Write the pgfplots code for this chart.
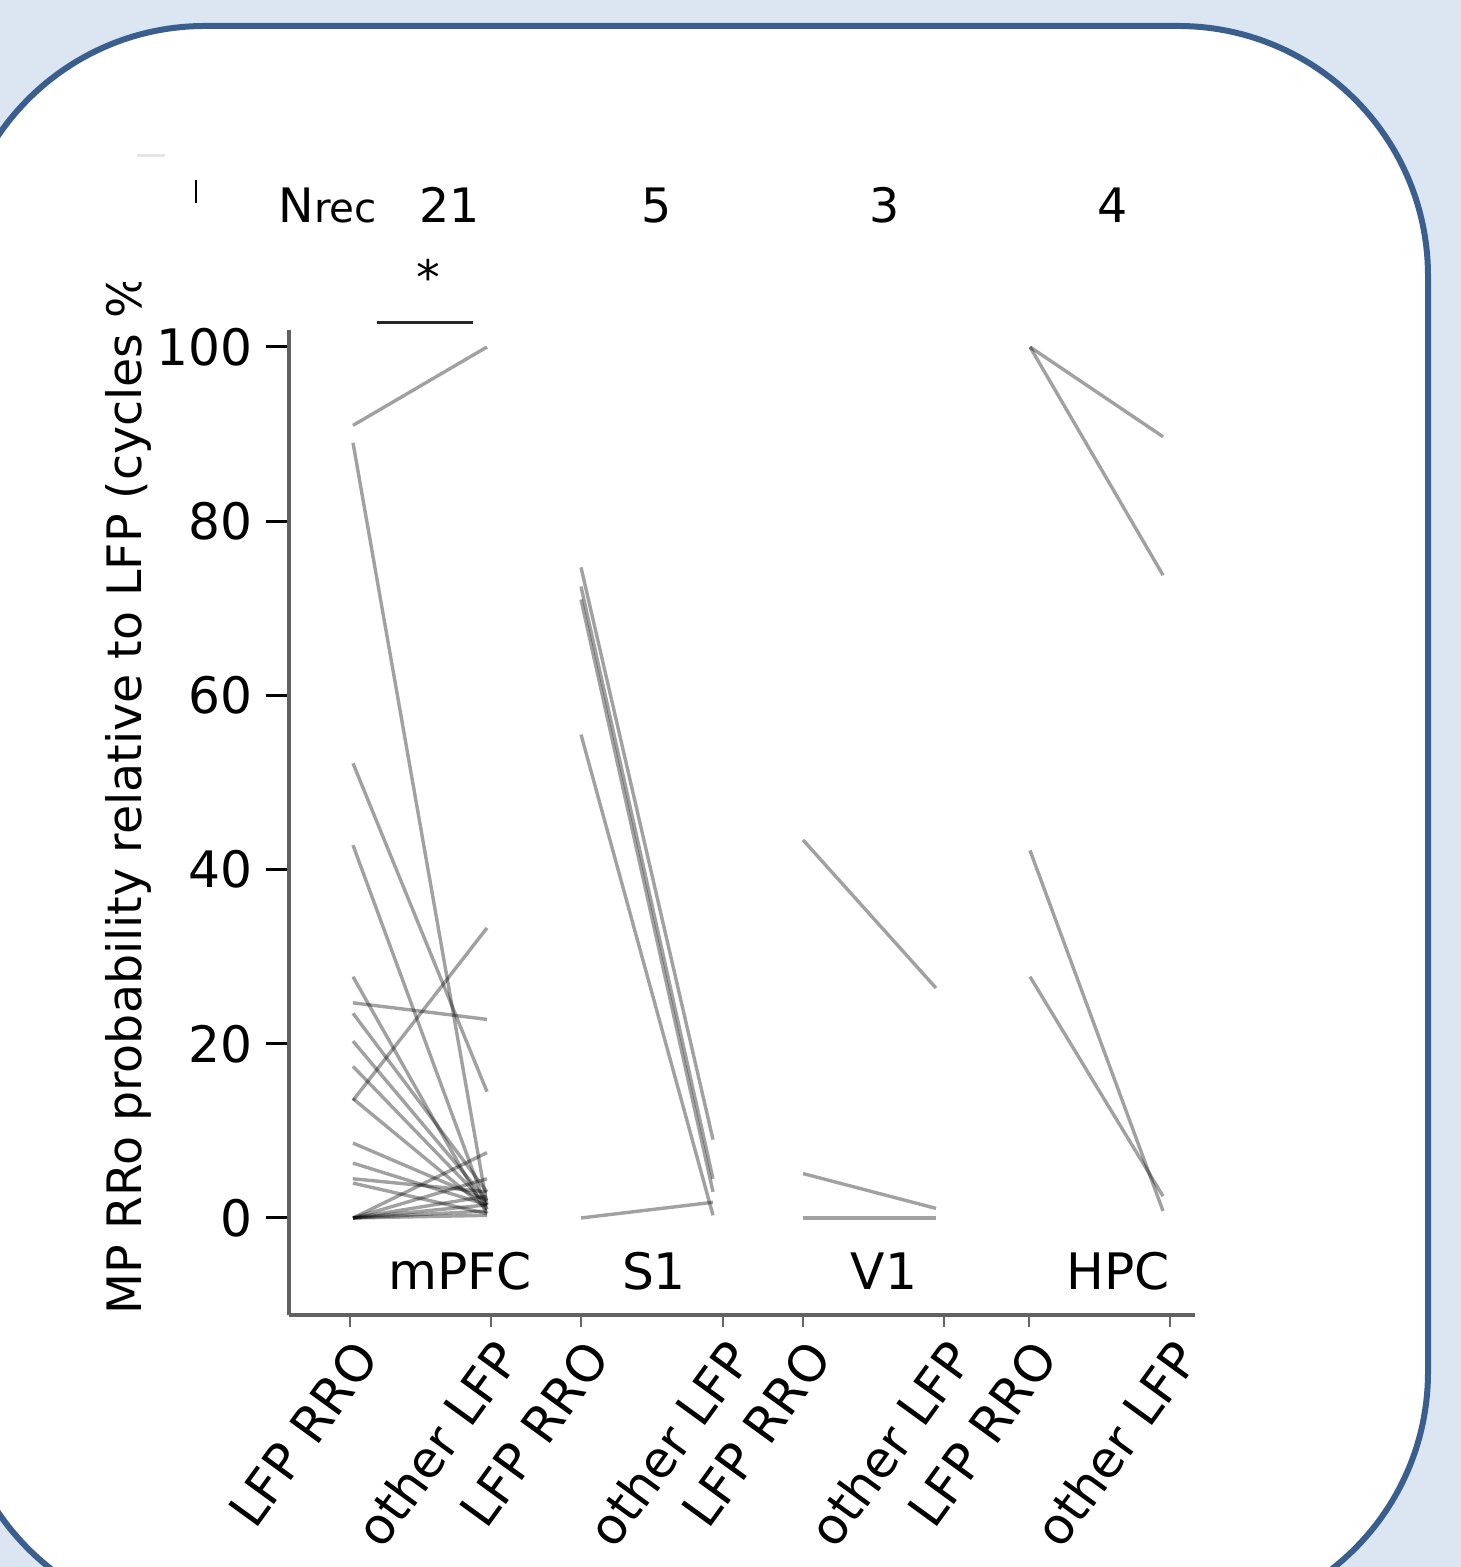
\documentclass[border=0pt]{standalone}
\usepackage{fontspec}
\setmainfont{DejaVu Sans}
\usepackage{pgfplots}
\pgfplotsset{compat=1.18}
\definecolor{bgblue}{HTML}{DCE6F2}
\definecolor{frameblue}{HTML}{3A5F8E}
\newcommand\fs{\fontsize{13.5pt}{16pt}\selectfont}
\newcommand\fsb{\fontsize{14.3pt}{17pt}\selectfont}
\begin{document}
\begin{tikzpicture}
\useasboundingbox (0cm,0cm) rectangle (14.61cm,15.67cm);
\clip (0cm,0cm) rectangle (14.61cm,15.67cm);
\fill[bgblue] (0cm,0cm) rectangle (14.61cm,15.67cm);
\draw[frameblue, line width=0.06cm, fill=white, rounded corners=2.5cm] (-0.45cm,-0.55cm) rectangle (14.28cm,15.41cm);
% small artifacts of the cropped figure
\draw[black!10, line width=0.03cm] (1.37cm,14.11cm) -- (1.65cm,14.11cm);
\draw[black, line width=0.012cm] (1.96cm,13.87cm) -- (1.96cm,13.64cm);
\begin{axis}[
  at={(2.89cm,2.52cm)}, anchor=south west,
  scale only axis, width=9.06cm, height=9.85cm,
  xmin=2.89, xmax=11.95, ymin=-11.14, ymax=101.95,
  axis x line*=bottom, axis y line*=left,
  axis line style={-, draw=black!62, line width=0.042cm},
  tick align=outside,
  xtick={3.50,4.91,5.81,7.23,8.03,9.44,10.29,11.70},
  xticklabels={LFP RRO,other LFP,LFP RRO,other LFP,LFP RRO,other LFP,LFP RRO,other LFP},
  ytick={0,20,40,60,80,100},
  xtick style={draw=black!60, line width=0.02cm, /pgfplots/major tick length=0.12cm},
  ytick style={draw=black, line width=0.03cm, /pgfplots/major tick length=0.23cm},
  /pgf/number format/assume math mode=true,
  yticklabel style={font=\fsb, xshift=-0.09cm},
  xticklabel style={font=\fsb, xshift=0.23cm, yshift=-0.08cm, rotate=54, anchor=east},
  clip=false,
  ln/.style={black, opacity=0.37, line width=0.034cm},
]
\newcommand\pl[4]{\addplot[ln] coordinates {(#1,#2) (#3,#4)};}
% mPFC
\pl{3.53}{91}{4.87}{100}
\pl{3.53}{89}{4.87}{1.5}
\pl{3.53}{52.2}{4.87}{14.5}
\pl{3.53}{42.8}{4.87}{1}
\pl{3.53}{27.7}{4.87}{0.5}
\pl{3.53}{24.7}{4.87}{22.8}
\pl{3.53}{23.5}{4.87}{3}
\pl{3.53}{20.3}{4.87}{2}
\pl{3.53}{17.4}{4.87}{1.5}
\pl{3.53}{13.5}{4.87}{33.3}
\pl{3.53}{13.7}{4.87}{1}
\pl{3.53}{8.6}{4.87}{2}
\pl{3.53}{6.3}{4.87}{1.5}
\pl{3.53}{4.5}{4.87}{3}
\pl{3.53}{4.0}{4.87}{0.5}
\pl{3.53}{0}{4.87}{7.5}
\pl{3.53}{0}{4.87}{4.5}
\pl{3.53}{0}{4.87}{2.5}
\pl{3.53}{0}{4.87}{1.5}
\pl{3.53}{0}{4.87}{0.8}
\pl{3.53}{0}{4.87}{0.3}
% S1
\pl{5.81}{74.7}{7.13}{9}
\pl{5.81}{72.5}{7.13}{4.5}
\pl{5.81}{71}{7.13}{3}
\pl{5.81}{55.5}{7.13}{0.3}
\pl{5.81}{0}{7.13}{1.8}
% V1
\pl{8.03}{43.4}{9.36}{26.4}
\pl{8.03}{5.1}{9.36}{1.1}
\pl{8.03}{0}{9.36}{0}
% HPC
\pl{10.30}{100}{11.63}{89.7}
\pl{10.30}{100}{11.63}{73.8}
\pl{10.30}{42.2}{11.63}{0.8}
\pl{10.30}{27.7}{11.63}{2.5}
\end{axis}
% y label, clipped at top like the reference
\begin{scope}
\clip (0cm,0cm) rectangle (14.61cm,12.84cm);
\node[rotate=90, anchor=base west, inner sep=0pt, font=\fs] at (1.42cm,2.52cm) {MP RRo probability relative to LFP (cycles \%)};
\end{scope}
% top annotations
\node[anchor=base west, inner sep=0pt, font=\fs] at (2.78cm,13.44cm) {N{\fontsize{11.5pt}{13pt}\selectfont rec}};
\node[anchor=base, inner sep=0pt, font=\fs] at (4.50cm,13.44cm) {21};
\node[anchor=base, inner sep=0pt, font=\fs] at (6.57cm,13.44cm) {5};
\node[anchor=base, inner sep=0pt, font=\fs] at (8.85cm,13.44cm) {3};
\node[anchor=base, inner sep=0pt, font=\fs] at (11.13cm,13.44cm) {4};
\node[anchor=base, inner sep=0pt, font=\fs] at (4.28cm,12.72cm) {*};
\draw[black!85, line width=0.03cm] (3.77cm,12.44cm) -- (4.73cm,12.44cm);
% region labels
\node[anchor=base, inner sep=0pt, font=\fsb] at (4.60cm,2.77cm) {mPFC};
\node[anchor=base, inner sep=0pt, font=\fsb] at (6.54cm,2.77cm) {S1};
\node[anchor=base, inner sep=0pt, font=\fsb] at (8.84cm,2.77cm) {V1};
\node[anchor=base, inner sep=0pt, font=\fsb] at (11.18cm,2.77cm) {HPC};
\end{tikzpicture}
\end{document}
